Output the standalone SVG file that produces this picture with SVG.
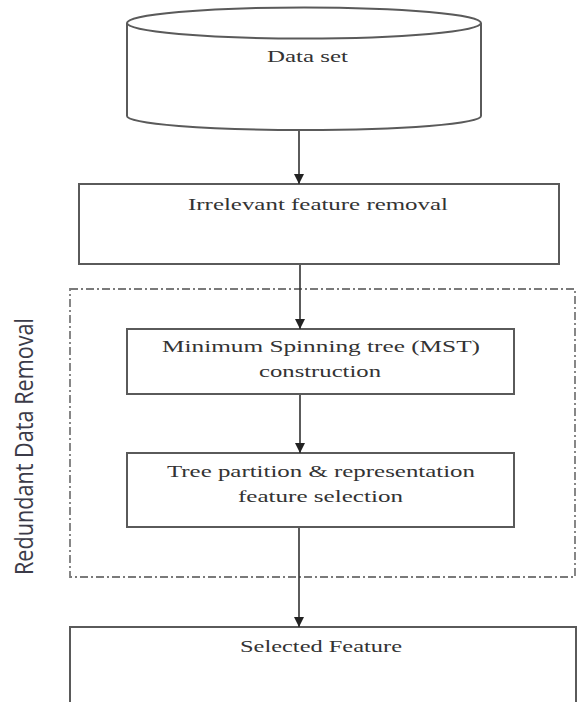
<svg xmlns="http://www.w3.org/2000/svg" width="577" height="702" viewBox="0 0 577 702">
<style>
.box{fill:#fff;stroke:#5a5a5a;stroke-width:2}
.lbl{font-family:"Liberation Serif","DejaVu Serif",serif;font-size:17px;fill:#333}
.edge{stroke:#333;stroke-width:1.6;fill:none}
.grp{fill:none;stroke:#7a7a7a;stroke-width:1.8;stroke-dasharray:8 3 2 3}
.side{font-family:"Open Sans","Liberation Sans",sans-serif;font-size:25px;fill:#3b3b48}
</style>
<defs>
<marker id="ah" viewBox="0 0 10 10" refX="10" refY="5" markerWidth="10" markerHeight="10" markerUnits="userSpaceOnUse" orient="auto">
<path d="M0,0 L10,5 L0,10 z" fill="#222"/>
</marker>
</defs>
<rect width="577" height="702" fill="#fff"/>
<g id="group-redundant">
<rect class="grp" x="70" y="289" width="505" height="288"/>
<text class="side" transform="translate(33,575) rotate(-90)" textLength="257" lengthAdjust="spacingAndGlyphs">Redundant Data Removal</text>
</g>
<g id="dataset">
<path class="box" d="M127,23 L127,116 A177,14 0 0 0 481,116 L481,23"/>
<ellipse class="box" cx="304" cy="23" rx="177" ry="15.5"/>
<text class="lbl" x="267" y="62" textLength="81" lengthAdjust="spacingAndGlyphs">Data set</text>
</g>
<g id="irrelevant">
<rect class="box" x="79" y="184" width="480" height="80"/>
<text class="lbl" x="188" y="210" textLength="260" lengthAdjust="spacingAndGlyphs">Irrelevant feature removal</text>
</g>
<g id="mst">
<rect class="box" x="127" y="329" width="387" height="65"/>
<text class="lbl" x="162" y="352" textLength="318" lengthAdjust="spacingAndGlyphs">Minimum Spinning tree  (MST)</text>
<text class="lbl" x="259" y="377" textLength="122" lengthAdjust="spacingAndGlyphs">construction</text>
</g>
<g id="partition">
<rect class="box" x="127" y="453" width="387" height="74"/>
<text class="lbl" x="167" y="477" textLength="308" lengthAdjust="spacingAndGlyphs">Tree partition &amp; representation</text>
<text class="lbl" x="238" y="502" textLength="165" lengthAdjust="spacingAndGlyphs">feature selection</text>
</g>
<g id="selected">
<path class="box" d="M70,710 L70,627 L576,627 L576,710"/>
<text class="lbl" x="240" y="652" textLength="162" lengthAdjust="spacingAndGlyphs">Selected Feature</text>
</g>
<g id="connectors">
<line class="edge" x1="299" y1="131" x2="299" y2="184" marker-end="url(#ah)"/>
<line class="edge" x1="300" y1="265" x2="300" y2="329" marker-end="url(#ah)"/>
<line class="edge" x1="300" y1="395" x2="300" y2="453" marker-end="url(#ah)"/>
<line class="edge" x1="299" y1="528" x2="299" y2="627" marker-end="url(#ah)"/>
</g>
</svg>
